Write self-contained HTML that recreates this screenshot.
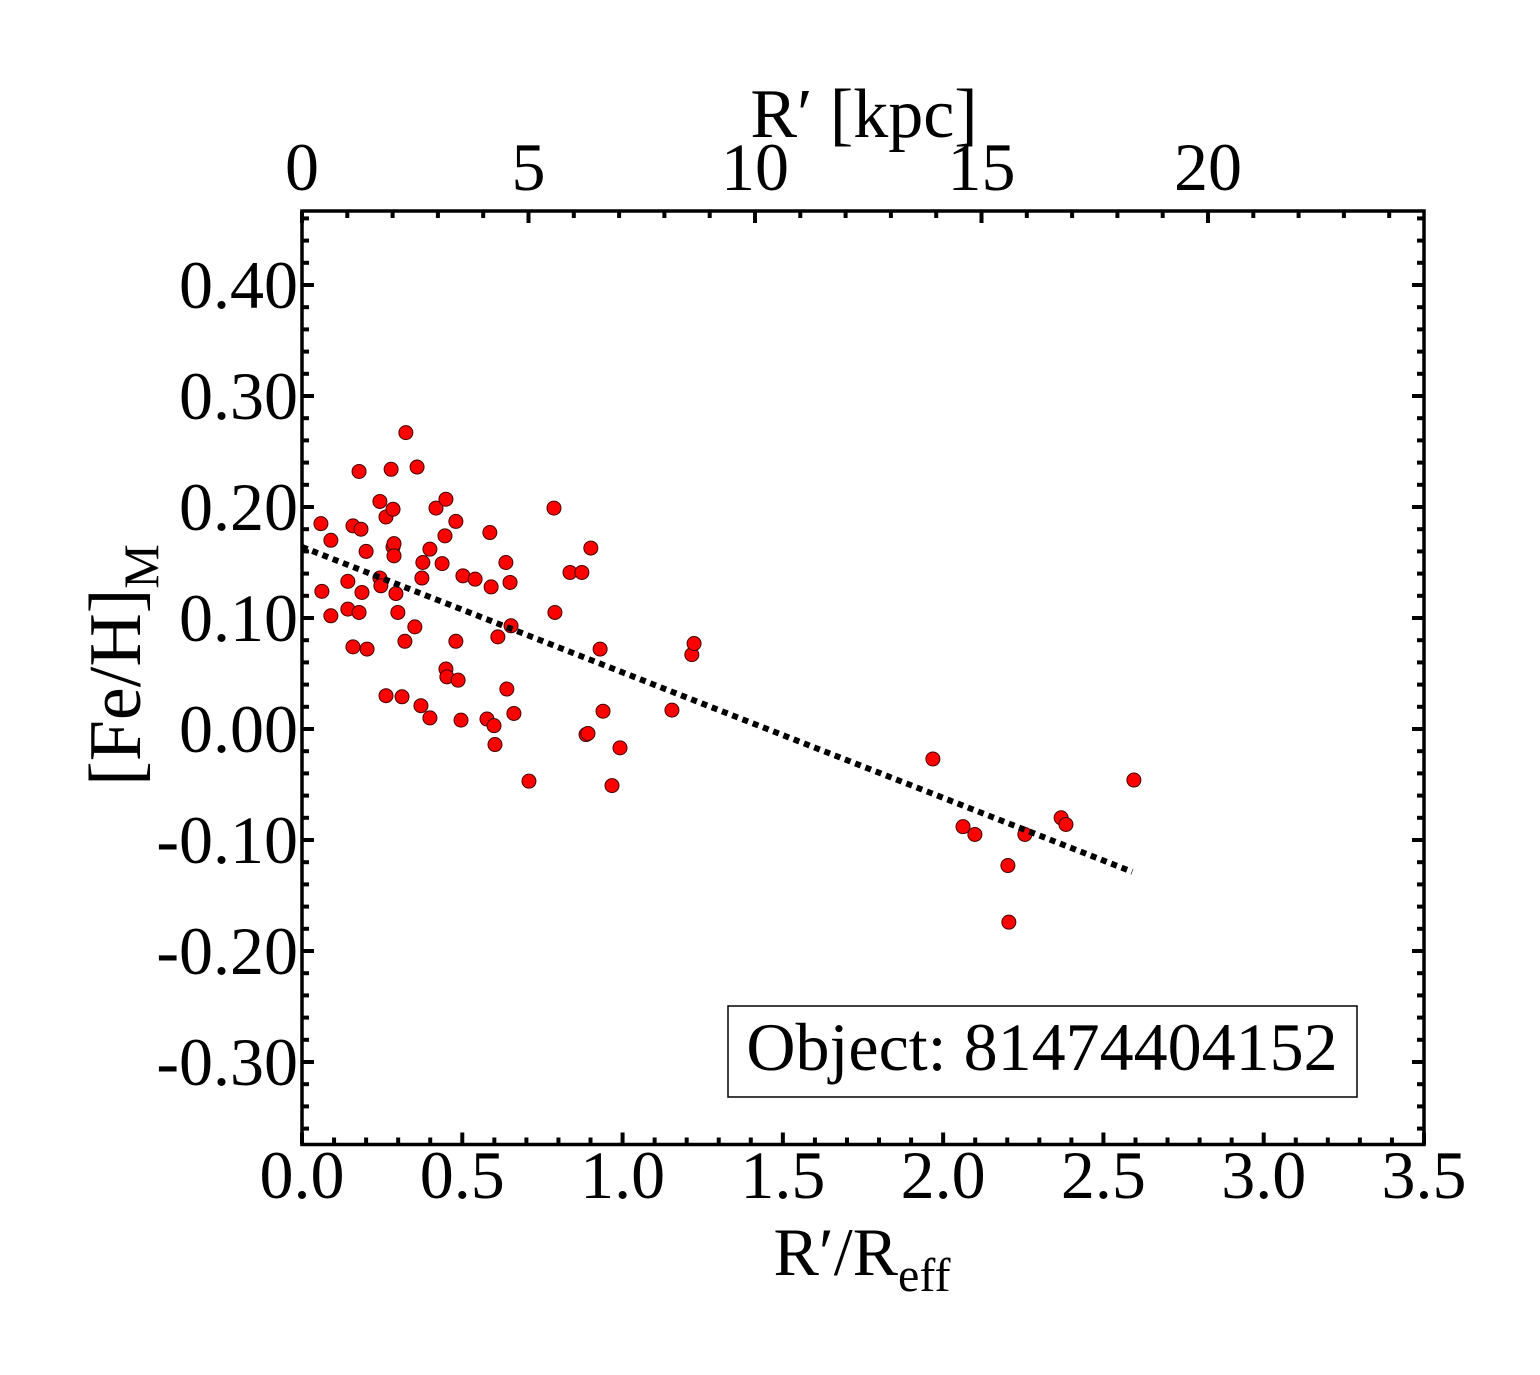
<!DOCTYPE html>
<html><head><meta charset="utf-8"><style>
html,body{margin:0;padding:0;background:#fff}
svg{display:block}
text{font-family:"Liberation Serif",serif;fill:#000}
</style></head><body>
<svg id="chart" width="1540" height="1375" viewBox="0 0 1540 1375" xmlns="http://www.w3.org/2000/svg">
<g id="ticks"></g>
<g id="marks"></g>
<rect x="302" y="211" width="1122" height="933.5" fill="none" stroke="#000" stroke-width="3.5"/>
<text x="864" y="137" font-size="70" text-anchor="middle">R′ [kpc]</text>
<text x="862" y="1275" font-size="68" text-anchor="middle">R′/R<tspan font-size="48" dy="16">eff</tspan></text>
<text transform="translate(140,665) rotate(-90)" font-size="74" text-anchor="middle">[Fe/H]<tspan font-size="50" dy="18">M</tspan></text>
<g>
<rect x="728" y="1006" width="629" height="91" fill="#fff" stroke="#000" stroke-width="1.5"/>
<text x="1042" y="1070" font-size="68" text-anchor="middle">Object: 81474404152</text>
</g>
</svg>
<script>
const xVals=[0.059,0.062,0.090,0.090,0.143,0.143,0.159,0.159,0.178,0.178,0.184,0.187,0.200,0.203,0.243,0.243,0.246,0.262,0.262,0.278,0.284,0.284,0.287,0.287,0.293,0.299,0.312,0.321,0.324,0.352,0.359,0.371,0.374,0.377,0.399,0.399,0.418,0.437,0.446,0.449,0.449,0.452,0.480,0.480,0.487,0.496,0.502,0.540,0.577,0.586,0.590,0.599,0.602,0.611,0.636,0.639,0.649,0.652,0.661,0.708,0.786,0.789,0.836,0.873,0.886,0.892,0.901,0.930,0.939,0.967,0.992,1.154,1.216,1.223,1.968,2.062,2.099,2.202,2.205,2.255,2.368,2.383,2.595];
const yVals=[0.185,0.124,0.170,0.102,0.133,0.108,0.183,0.074,0.232,0.105,0.180,0.123,0.160,0.072,0.205,0.136,0.129,0.191,0.030,0.234,0.198,0.164,0.167,0.156,0.122,0.105,0.029,0.079,0.267,0.092,0.236,0.021,0.136,0.150,0.162,0.010,0.199,0.149,0.174,0.207,0.054,0.047,0.187,0.079,0.044,0.008,0.138,0.135,0.009,0.177,0.128,0.003,-0.014,0.083,0.150,0.036,0.132,0.093,0.014,-0.047,0.199,0.105,0.141,0.141,-0.005,-0.004,0.163,0.072,0.016,-0.051,-0.017,0.017,0.067,0.077,-0.027,-0.088,-0.095,-0.123,-0.174,-0.095,-0.080,-0.086,-0.046];
const fitIntercept=0.164;
const fitSlope=-0.113;
const fitXMax=2.59;
const xTickLabels=["0.0","0.5","1.0","1.5","2.0","2.5","3.0","3.5"];
const yTickLabels=["0.40","0.30","0.20","0.10","0.00","-0.10","-0.20","-0.30"];
const kpcTickLabels=["0","5","10","15","20"];
const X0=302,X1=1424,Y0=211,Y1=1144.5;
const xMin=0,xMax=3.5,yZero=729,yPer=1110;
const kpcPer=45.3;
function sx(v){return X0+(v-xMin)/(xMax-xMin)*(X1-X0);}
function sy(v){return yZero-v*yPer;}
function sk(v){return X0+v*kpcPer;}
const NS="http://www.w3.org/2000/svg";
const svg=document.getElementById('chart');
const T=document.getElementById('ticks'),M=document.getElementById('marks');
function ln(g,x1,y1,x2,y2,w){const l=document.createElementNS(NS,'line');l.setAttribute('x1',x1);l.setAttribute('y1',y1);l.setAttribute('x2',x2);l.setAttribute('y2',y2);l.setAttribute('stroke','#000');l.setAttribute('stroke-width',w);g.appendChild(l);return l;}
function tx(s,x,y,anchor){const t=document.createElementNS(NS,'text');t.setAttribute('x',x);t.setAttribute('y',y);t.setAttribute('font-size','68');t.setAttribute('text-anchor',anchor);t.textContent=s;svg.appendChild(t);return t;}
for(let i=0;i<=35;i++){const v=i/10;const x=sx(v);const maj=i%5===0;ln(T,x,Y1,x,Y1-(maj?12:7),4);}
xTickLabels.forEach(s=>{const t=tx(s,sx(parseFloat(s)),1198,'middle');

});
for(let i=-18;i<=23;i++){const v=i/50;const y=sy(v);if(y<Y0+2||y>Y1-2)continue;const maj=i%5===0;ln(T,X0,y,X0+(maj?12:7),y,4);ln(T,X1,y,X1-(maj?12:7),y,4);}
yTickLabels.forEach(s=>{const t=tx(s,298,sy(parseFloat(s))+23,'end');

});
for(let k=0;k<=24;k++){const x=sk(k);if(x>X1-2)continue;const maj=k%5===0;ln(T,x,Y0,x,Y0+(maj?12:7),4);}
kpcTickLabels.forEach(s=>{const t=tx(s,sk(parseFloat(s)),190,'middle');

});
const fl=ln(M,sx(0),sy(fitIntercept),sx(fitXMax),sy(fitIntercept+fitSlope*fitXMax),6);
fl.setAttribute('stroke-dasharray','6,5');


xVals.forEach((v,i)=>{const c=document.createElementNS(NS,'circle');c.setAttribute('cx',sx(v));c.setAttribute('cy',sy(yVals[i]));c.setAttribute('r',7);c.setAttribute('fill','#f00');c.setAttribute('stroke','#400');c.setAttribute('stroke-width',1);


M.insertBefore(c,fl);});
</script>
</body></html>
